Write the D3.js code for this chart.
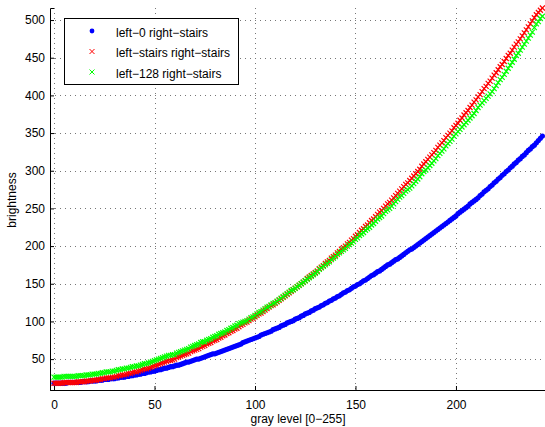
<!DOCTYPE html>
<html>
<head>
<meta charset="utf-8">
<script src="https://cdn.jsdelivr.net/npm/d3@7"></script>
<style>
    body { margin: 0; background: #fff; }
    text { font-family: "Liberation Sans", Arial, Helvetica, sans-serif; font-size: 12px; fill: #000; }
</style>
</head>
<body>
<svg id="canvas"></svg>
<script>
// ########## Data ##########

// gray levels 0..243, one value per level
var blue = [
    18, 18, 18, 18, 18, 18, 18, 19, 19, 19,
    19, 19, 19, 19, 20, 20, 20, 20, 21, 21,
    21, 21, 22, 22, 22, 23, 23, 23, 24, 24,
    24, 25, 25, 26, 26, 26, 27, 27, 28, 28,
    29, 29, 30, 30, 31, 31, 32, 33, 33, 34,
    34, 35, 36, 36, 37, 38, 38, 39, 40, 40,
    41, 42, 42, 43, 44, 45, 46, 46, 47, 48,
    49, 50, 50, 51, 52, 53, 54, 55, 56, 57,
    57, 58, 59, 60, 61, 62, 63, 64, 65, 66,
    67, 68, 69, 70, 72, 73, 74, 75, 76, 77,
    78, 79, 80, 82, 83, 84, 85, 86, 87, 89,
    90, 91, 92, 94, 95, 96, 98, 99, 100, 101,
    103, 104, 105, 107, 108, 110, 111, 112, 114, 115,
    117, 118, 119, 121, 122, 124, 125, 127, 128, 130,
    131, 133, 134, 136, 138, 139, 141, 142, 144, 146,
    147, 149, 150, 152, 154, 155, 157, 159, 161, 162,
    164, 166, 167, 169, 171, 173, 175, 176, 178, 180,
    182, 183, 185, 187, 189, 191, 193, 195, 196, 198,
    200, 202, 204, 206, 208, 210, 212, 214, 216, 218,
    220, 222, 224, 226, 228, 230, 232, 234, 236, 238,
    240, 243, 245, 247, 249, 251, 253, 256, 258, 260,
    262, 264, 267, 269, 272, 274, 276, 279, 281, 284,
    286, 289, 291, 294, 296, 299, 301, 304, 306, 309,
    311, 314, 316, 319, 321, 324, 327, 329, 332, 334,
    337, 340, 343, 346
];

var red = [
    18, 18, 18, 18, 18, 19, 19, 19, 19, 19,
    19, 19, 20, 20, 20, 20, 21, 21, 21, 22,
    22, 22, 23, 23, 24, 24, 25, 25, 25, 26,
    26, 27, 28, 28, 29, 29, 30, 31, 31, 32,
    33, 33, 34, 35, 36, 37, 37, 38, 39, 40,
    41, 42, 43, 44, 45, 46, 47, 48, 48, 49,
    50, 52, 53, 54, 55, 56, 57, 58, 60, 61,
    62, 63, 64, 66, 67, 68, 70, 71, 72, 74,
    75, 76, 78, 79, 81, 82, 84, 85, 87, 88,
    90, 91, 93, 95, 96, 98, 99, 101, 103, 104,
    106, 108, 110, 111, 113, 115, 117, 119, 121, 122,
    124, 126, 128, 130, 132, 134, 136, 138, 140, 142,
    144, 146, 148, 150, 152, 154, 157, 159, 161, 163,
    165, 167, 170, 172, 174, 177, 179, 181, 184, 186,
    188, 191, 193, 196, 198, 200, 203, 205, 208, 210,
    213, 215, 218, 221, 223, 226, 228, 231, 234, 236,
    239, 242, 245, 247, 250, 253, 256, 258, 261, 264,
    267, 270, 273, 276, 279, 282, 284, 287, 290, 293,
    296, 299, 302, 306, 309, 312, 315, 318, 321, 324,
    327, 331, 334, 337, 340, 344, 347, 350, 353, 357,
    360, 363, 367, 370, 374, 377, 380, 384, 387, 391,
    394, 398, 401, 405, 409, 412, 416, 419, 423, 427,
    430, 434, 438, 441, 445, 449, 453, 456, 460, 464,
    468, 471, 475, 479, 483, 487, 491, 495, 499, 503,
    507, 510, 513, 516
];

var green = [
    26, 26, 26, 26, 26, 27, 27, 27, 27, 27,
    27, 27, 28, 28, 28, 28, 29, 29, 29, 30,
    30, 30, 31, 31, 32, 32, 33, 33, 33, 34,
    34, 35, 36, 36, 37, 37, 38, 38, 39, 40,
    40, 41, 41, 42, 43, 44, 44, 45, 46, 47,
    48, 49, 50, 51, 52, 53, 54, 55, 55, 56,
    56, 58, 59, 60, 61, 62, 63, 64, 66, 67,
    68, 69, 70, 72, 73, 73, 75, 76, 77, 79,
    80, 81, 83, 84, 85, 86, 88, 89, 91, 92,
    94, 95, 97, 98, 99, 100, 101, 103, 105, 106,
    108, 110, 112, 113, 115, 117, 119, 120, 122, 124,
    125, 127, 129, 131, 133, 135, 137, 139, 141, 142,
    144, 146, 148, 150, 152, 154, 156, 158, 160, 162,
    164, 166, 169, 171, 173, 175, 177, 179, 182, 184,
    186, 189, 191, 193, 195, 197, 200, 202, 204, 206,
    209, 211, 214, 216, 218, 221, 223, 225, 228, 230,
    233, 236, 238, 240, 243, 246, 248, 250, 253, 256,
    259, 262, 265, 267, 270, 273, 275, 277, 280, 283,
    286, 289, 292, 296, 299, 301, 304, 307, 310, 313,
    316, 320, 323, 326, 329, 333, 336, 339, 342, 346,
    349, 352, 355, 358, 361, 364, 367, 370, 373, 376,
    380, 384, 387, 390, 393, 396, 399, 402, 405, 409,
    413, 417, 421, 424, 428, 432, 436, 440, 444, 448,
    453, 456, 460, 464, 468, 472, 476, 480, 484, 490,
    495, 498, 502, 505
];

var seriesNames = ["left\u22120 right\u2212stairs", "left\u2212stairs right\u2212stairs", "left\u2212128 right\u2212stairs"];
var seriesColors = ["#0000ff", "#ff0000", "#00ff00"];
var xTicks = [0, 50, 100, 150, 200];
var yTicks = [50, 100, 150, 200, 250, 300, 350, 400, 450, 500];

// ########## SVG ##########

var w = 545;
var h = 427;

var svg = d3.select("#canvas")
    .attr("width", w)
    .attr("height", h);

svg.append("rect")
    .attr("width", w)
    .attr("height", h)
    .attr("fill", "#fff");

var plotLeft = 50, plotRight = 545, plotTop = 8, plotBottom = 390;

var x = d3.scaleLinear().domain([-2, 244.3]).range([plotLeft, plotRight]);
var y = d3.scaleLinear().domain([9, 516]).range([plotBottom, plotTop]);

// ########## Grid ##########

var grid = svg.append("g")
    .attr("stroke", "#777")
    .attr("stroke-width", 1)
    .attr("stroke-dasharray", "1,4");

grid.selectAll(".vgrid")
    .data(xTicks).enter()
    .append("line")
    .attr("x1", function (d) { return Math.round(x(d)) + 0.5; })
    .attr("x2", function (d) { return Math.round(x(d)) + 0.5; })
    .attr("y1", plotTop)
    .attr("y2", plotBottom);

grid.selectAll(".hgrid")
    .data(yTicks).enter()
    .append("line")
    .attr("x1", plotLeft)
    .attr("x2", plotRight)
    .attr("y1", function (d) { return Math.round(y(d)) + 0.5; })
    .attr("y2", function (d) { return Math.round(y(d)) + 0.5; });

// ########## Axes ##########

var xAxis = d3.axisBottom(x)
    .tickValues(xTicks)
    .tickSize(-4)
    .tickPadding(10)
    .tickFormat(d3.format("d"));

var yAxis = d3.axisLeft(y)
    .tickValues(yTicks)
    .tickSize(-4)
    .tickPadding(5)
    .tickFormat(d3.format("d"));

var gx = svg.append("g")
    .attr("transform", "translate(0," + plotBottom + ")")
    .call(xAxis);

var gy = svg.append("g")
    .attr("transform", "translate(" + plotLeft + ",0)")
    .call(yAxis);

[gx, gy].forEach(function (g) {
    g.selectAll("text").style("font-size", "12px").style("font-family", null);
    g.select(".domain").attr("stroke", "#000");
    g.selectAll(".tick line").attr("stroke", "#000");
});

// ########## Series ##########

var series = [blue, red, green];
var xMark = "M-2.5,-2.5L2.5,2.5M-2.5,2.5L2.5,-2.5";

series.forEach(function (vals, i) {
    var g = svg.append("g");
    if (i === 0) {
        g.selectAll("circle")
            .data(vals).enter()
            .append("circle")
            .attr("cx", function (d, k) { return x(k); })
            .attr("cy", function (d) { return y(d); })
            .attr("r", 2.6)
            .attr("fill", seriesColors[i]);
    } else {
        g.selectAll("path")
            .data(vals).enter()
            .append("path")
            .attr("d", xMark)
            .attr("transform", function (d, k) { return "translate(" + x(k) + "," + y(d) + ")"; })
            .attr("fill", "none")
            .attr("stroke", seriesColors[i])
            .attr("stroke-width", 1.2);
    }
});

// ########## Labels ##########

svg.append("text")
    .attr("x", 298)
    .attr("y", 423)
    .attr("text-anchor", "middle")
    .text("gray level [0\u2212255]");

svg.append("text")
    .attr("transform", "translate(16,200) rotate(-90)")
    .attr("text-anchor", "middle")
    .text("brightness");

// ########## Legend ##########

var legend = svg.append("g");

legend.append("rect")
    .attr("x", 64.5)
    .attr("y", 18.5)
    .attr("width", 174)
    .attr("height", 66)
    .attr("fill", "#fff")
    .attr("stroke", "#000")
    .attr("stroke-width", 1);

var rows = legend.selectAll(".row")
    .data(seriesNames).enter()
    .append("g")
    .attr("transform", function (d, i) { return "translate(92," + (31 + i * 20.5) + ")"; });

rows.each(function (d, i) {
    var r = d3.select(this);
    if (i === 0) {
        r.append("circle").attr("r", 2.4).attr("fill", seriesColors[i]);
    } else {
        r.append("path").attr("d", xMark).attr("fill", "none")
            .attr("stroke", seriesColors[i]).attr("stroke-width", 1);
    }
    r.append("text")
        .attr("x", 24)
        .attr("y", 5.5)
        .text(d);
});
</script>
</body>
</html>
